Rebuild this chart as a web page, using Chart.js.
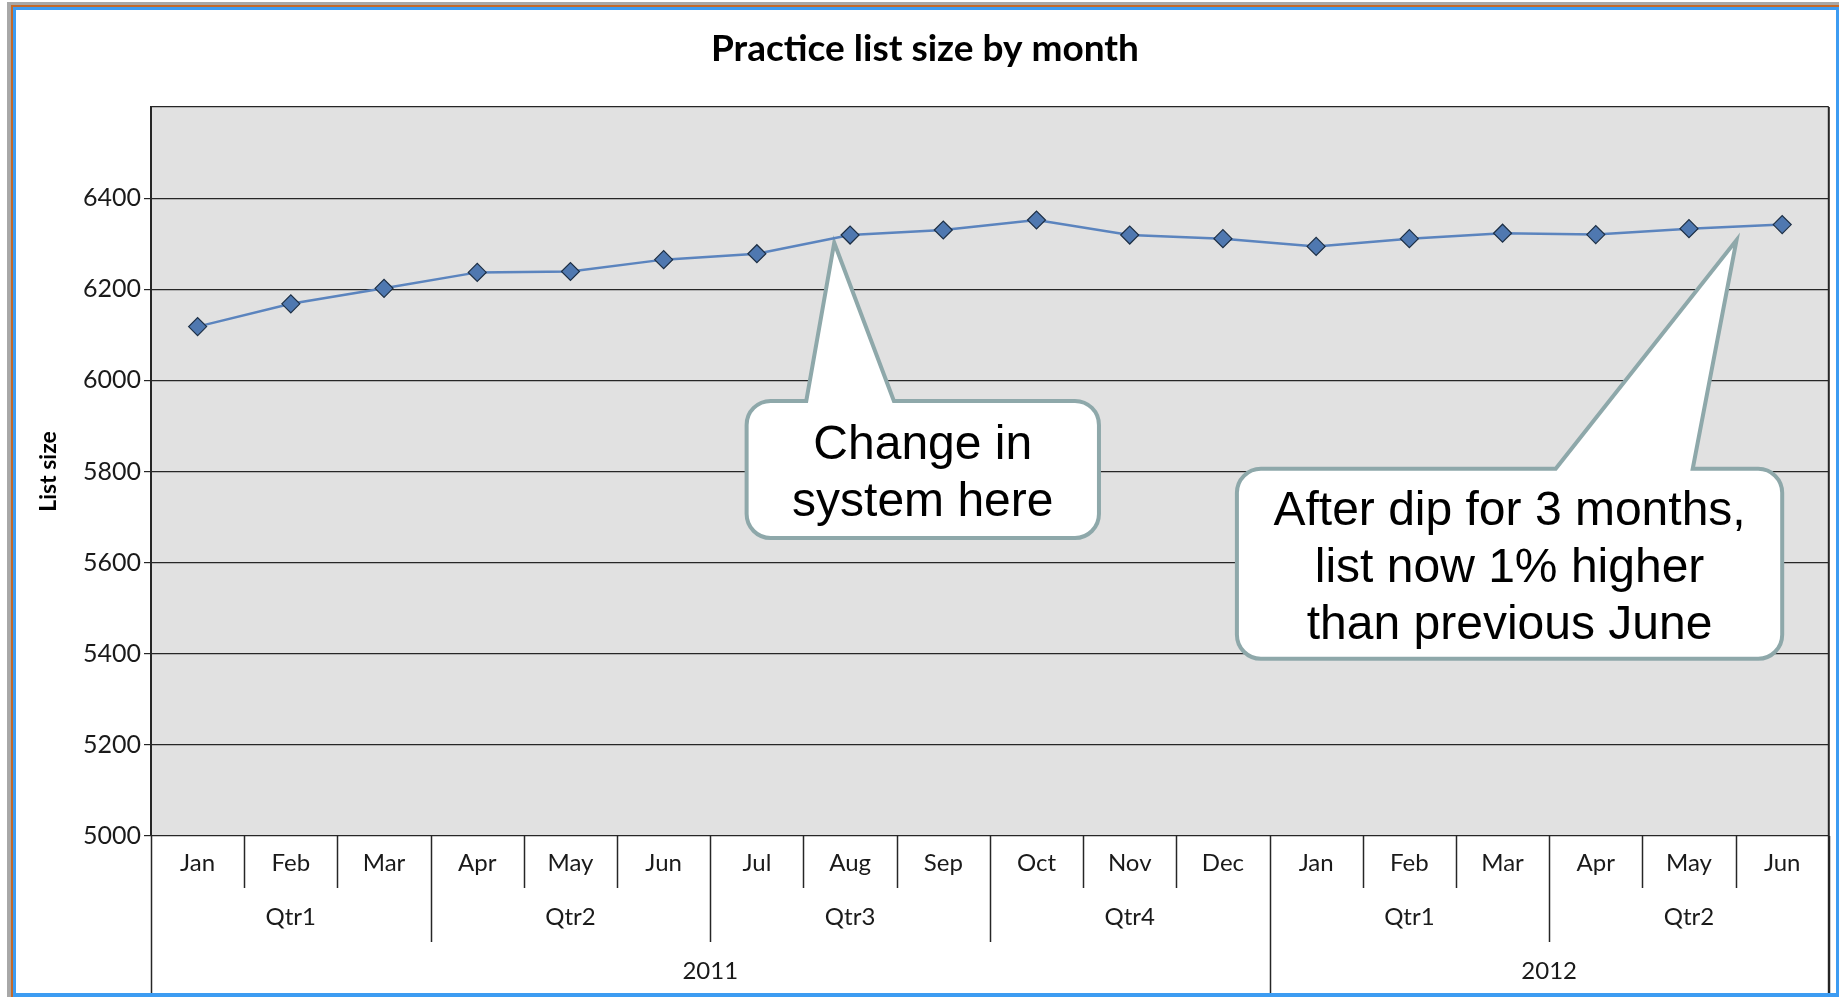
<!DOCTYPE html>
<html>
<head>
<meta charset="utf-8">
<title>Practice list size by month</title>
<script src="https://cdn.jsdelivr.net/npm/chart.js@4.4.1/dist/chart.umd.min.js"></script>
<style>
  html, body { margin: 0; padding: 0; background: #fff; overflow: hidden; }
  #wrap { position: relative; width: 1839px; height: 997px; }
</style>
</head>
<body>
<div id="wrap"><canvas id="listChart"></canvas></div>
<script>
/* Practice list size by month - line chart with grouped month / quarter / year axis */

const MONTHS = ['Jan', 'Feb', 'Mar', 'Apr', 'May', 'Jun', 'Jul', 'Aug', 'Sep', 'Oct', 'Nov', 'Dec',
  'Jan', 'Feb', 'Mar', 'Apr', 'May', 'Jun'];
const QUARTERS = ['Qtr1', 'Qtr1', 'Qtr1', 'Qtr2', 'Qtr2', 'Qtr2', 'Qtr3', 'Qtr3', 'Qtr3', 'Qtr4', 'Qtr4', 'Qtr4',
  'Qtr1', 'Qtr1', 'Qtr1', 'Qtr2', 'Qtr2', 'Qtr2'];
const YEARS = ['2011', '2011', '2011', '2011', '2011', '2011', '2011', '2011', '2011', '2011', '2011', '2011',
  '2012', '2012', '2012', '2012', '2012', '2012'];
const LIST_SIZE = [6118, 6168, 6202, 6237, 6239, 6265, 6278, 6319, 6330, 6352, 6319, 6311,
  6294, 6311, 6323, 6320, 6333, 6342];
const Y_TICKS = [5000, 5200, 5400, 5600, 5800, 6000, 6200, 6400];

// callout boxes, placed in data units (x = month index, y = list size)
const CALLOUTS = [
  { lines: ['Change in', 'system here'], x0: 5.89, x1: 9.67, y0: 5955, y1: 5654, base: [6.53, 7.47], tip: [6.83, 6302] },
  { lines: ['After dip for 3 months,', 'list now 1% higher', 'than previous June'], x0: 11.15, x1: 17.0, y0: 5806, y1: 5389, base: [14.57, 16.04], tip: [16.51, 6308] },
];

const AXIS_COLOR = '#262626';
const LABEL_FONT = '24px Lato';

const plotBackground = {
  id: 'plotBackground',
  beforeDraw(chart) {
    const { ctx, chartArea: a } = chart;
    ctx.save();
    ctx.fillStyle = '#e1e1e1';
    ctx.fillRect(a.left, a.top, a.right - a.left, a.bottom - a.top);
    ctx.restore();
  },
};

function roundedCallout(ctx, l, t, r, b, rad, bl, br, tip) {
  ctx.beginPath();
  ctx.moveTo(l + rad, t);
  ctx.lineTo(bl, t);
  ctx.lineTo(tip.x, tip.y);
  ctx.lineTo(br, t);
  ctx.lineTo(r - rad, t);
  ctx.arcTo(r, t, r, t + rad, rad);
  ctx.lineTo(r, b - rad);
  ctx.arcTo(r, b, r - rad, b, rad);
  ctx.lineTo(l + rad, b);
  ctx.arcTo(l, b, l, b - rad, rad);
  ctx.lineTo(l, t + rad);
  ctx.arcTo(l, t, l + rad, t, rad);
  ctx.closePath();
}

const callouts = {
  id: 'callouts',
  beforeDatasetsDraw(chart) {
    const { ctx, scales: { x, y } } = chart;
    ctx.save();
    CALLOUTS.forEach(c => {
      const l = x.getPixelForValue(c.x0), r = x.getPixelForValue(c.x1);
      const t = y.getPixelForValue(c.y0), b = y.getPixelForValue(c.y1);
      const tip = { x: x.getPixelForValue(c.tip[0]), y: y.getPixelForValue(c.tip[1]) };
      roundedCallout(ctx, l, t, r, b, 24, x.getPixelForValue(c.base[0]), x.getPixelForValue(c.base[1]), tip);
      ctx.fillStyle = '#ffffff';
      ctx.fill();
      ctx.lineWidth = 4;
      ctx.lineJoin = 'miter';
      ctx.strokeStyle = '#8ea8aa';
      ctx.stroke();

      ctx.fillStyle = '#000';
      ctx.font = '48px "Liberation Sans", Arial, sans-serif';
      ctx.textAlign = 'center';
      ctx.textBaseline = 'middle';
      const cx = (l + r) / 2, cy = (t + b) / 2 + 5, step = 57;
      c.lines.forEach((line, i) => {
        ctx.fillText(line, cx, cy + (i - (c.lines.length - 1) / 2) * step);
      });
    });
    ctx.restore();
  },
};

const groupAxis = {
  id: 'groupAxis',
  afterDraw(chart) {
    const { ctx, chartArea: a, scales: { x } } = chart;
    const edge = i => x.getPixelForValue(i - 0.5);
    const n = MONTHS.length;
    ctx.save();

    // right border of the plot, carried down to the bottom like the left one
    ctx.strokeStyle = AXIS_COLOR;
    ctx.lineWidth = 2;
    ctx.beginPath();
    ctx.moveTo(a.right, a.top);
    ctx.lineTo(a.right, chart.height);
    ctx.stroke();

    ctx.lineWidth = 1.5;
    for (let i = 0; i <= n; i++) {
      let end = a.bottom + 52;
      if (i === 0 || i === n || YEARS[i] !== YEARS[i - 1]) end = chart.height;
      else if (QUARTERS[i] !== QUARTERS[i - 1]) end = a.bottom + 106;
      const px = Math.round(edge(i)) + 0.5;
      ctx.beginPath();
      ctx.moveTo(px, a.bottom);
      ctx.lineTo(px, end);
      ctx.stroke();
    }

    ctx.fillStyle = '#1a1a1a';
    ctx.font = LABEL_FONT;
    ctx.textAlign = 'center';
    ctx.textBaseline = 'middle';
    MONTHS.forEach((m, i) => ctx.fillText(m, x.getPixelForValue(i), a.bottom + 27));

    const drawGroups = (keys, labels, rowY) => {
      let start = 0;
      for (let i = 1; i <= n; i++) {
        if (i === n || keys[i] !== keys[i - 1]) {
          ctx.fillText(labels[start], (edge(start) + edge(i)) / 2, rowY);
          start = i;
        }
      }
    };
    drawGroups(QUARTERS.map((q, i) => YEARS[i] + q), QUARTERS, a.bottom + 81);
    drawGroups(YEARS, YEARS, a.bottom + 135);

    // window frame round the chart
    ctx.fillStyle = '#a8a8a8';
    ctx.fillRect(7, 2, chart.width, 3);
    ctx.fillRect(7, 2, 4, chart.height);
    ctx.fillStyle = '#c46a2a';
    ctx.fillRect(11, 5, chart.width, 2);
    ctx.fillRect(11, 5, 2, chart.height);
    ctx.fillStyle = '#3d9cf2';
    ctx.fillRect(13, 7, chart.width, 3);
    ctx.fillRect(13, 7, 3, chart.height);
    ctx.fillRect(1836, 7, 3, chart.height);
    ctx.fillRect(13, 993, chart.width, 4);
    ctx.restore();
  },
};

new Chart(document.getElementById('listChart'), {
  type: 'line',
  data: {
    labels: MONTHS,
    datasets: [{
      label: 'List size',
      data: LIST_SIZE,
      borderColor: '#5b84be',
      borderWidth: 2.5,
      tension: 0,
      pointStyle: 'rectRot',
      pointRadius: 9,
      pointBackgroundColor: '#4f78b0',
      pointBorderColor: '#1d2f45',
      pointBorderWidth: 1.2,
    }],
  },
  options: {
    responsive: true,
    maintainAspectRatio: false,
    animation: false,
    layout: { padding: { left: 20, right: 9, top: 0, bottom: 0 } },
    plugins: {
      legend: { display: false },
      tooltip: { enabled: false },
      title: {
        display: true,
        text: 'Practice list size by month',
        color: '#000',
        font: { family: 'Lato', size: 37, weight: 'bold', lineHeight: 1.2 },
        padding: { top: 27, bottom: 35.6 },
      },
    },
    scales: {
      x: {
        offset: true,
        grid: { display: false },
        border: { display: false },
        ticks: { display: false },
        afterFit: s => { s.height = 161; },
      },
      y: {
        min: 5000,
        max: 6600,
        afterFit: s => { s.width = 131; },
        afterBuildTicks: s => { s.ticks = Y_TICKS.concat([6600]).map(v => ({ value: v })); },
        ticks: {
          color: '#1a1a1a',
          font: { family: 'Lato', size: 25 },
          padding: 3,
          callback: v => (Y_TICKS.includes(v) ? String(v) : ''),
        },
        grid: {
          color: AXIS_COLOR,
          lineWidth: 1.2,
          tickLength: 7,
          tickColor: c => (c.tick && Y_TICKS.includes(c.tick.value) ? AXIS_COLOR : 'rgba(0,0,0,0)'),
        },
        border: { display: true, color: AXIS_COLOR, width: 2 },
        title: {
          display: true,
          text: 'List size',
          color: '#000',
          font: { family: 'Lato', size: 23, weight: 'bold', lineHeight: 1.2 },
          padding: { top: 15, bottom: 0 },
        },
      },
    },
  },
  plugins: [plotBackground, callouts, groupAxis],
});
</script>
</body>
</html>
